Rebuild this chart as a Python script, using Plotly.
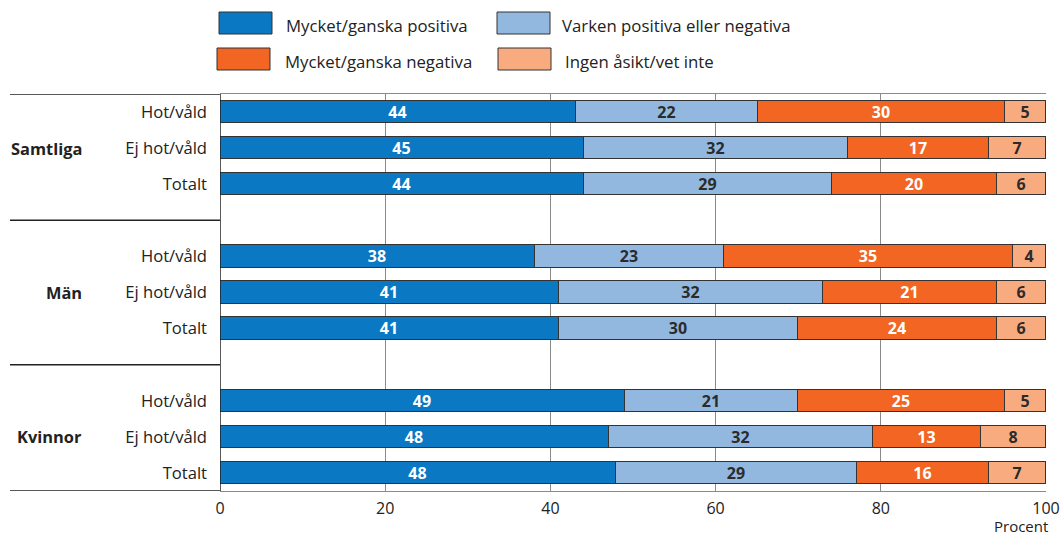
import plotly.graph_objects as go

# Data: segment lengths, labels as printed in the bars
groups = ["Samtliga", "Män", "Kvinnor"]
rows = ["Hot/våld", "Ej hot/våld", "Totalt"]
series = ["Mycket/ganska positiva", "Varken positiva eller negativa",
          "Mycket/ganska negativa", "Ingen åsikt/vet inte"]
colors = ["#0a78c2", "#93b8e0", "#f26522", "#f9ab80"]
text_colors = ["white", "#2b2b2b", "white", "#2b2b2b"]

positiva = [43.1, 44.1, 44.1, 38.1, 41.0, 41.0, 49.0, 47.1, 48.0]
varken = [22.0, 31.9, 30.0, 22.9, 32.0, 29.0, 21.0, 32.0, 29.1]
negativa = [29.9, 17.1, 20.0, 35.0, 21.1, 24.1, 25.0, 13.0, 16.0]
ingen = [5.0, 6.9, 5.9, 4.0, 5.9, 5.9, 5.0, 7.9, 6.9]

lab_positiva = [44, 45, 44, 38, 41, 41, 49, 48, 48]
lab_varken = [22, 32, 29, 23, 32, 30, 21, 32, 29]
lab_negativa = [30, 17, 20, 35, 21, 24, 25, 13, 16]
lab_ingen = [5, 7, 6, 4, 6, 6, 5, 8, 7]

values = [positiva, varken, negativa, ingen]
labels = [lab_positiva, lab_varken, lab_negativa, lab_ingen]

x_ticks = [0, 20, 40, 60, 80, 100]

FONT = "Open Sans"
INK = "#222222"

# y positions: three bars per group, one empty slot between groups
ypos = []
for g in range(len(groups)):
    for r in range(len(rows)):
        ypos.append(g * 4 + r)

fig = go.Figure()

for i, name in enumerate(series):
    fig.add_trace(go.Bar(
        x=values[i], y=ypos, orientation="h", name=name,
        marker=dict(color=colors[i], line=dict(color="#333333", width=1)),
        width=0.62,
        text=[str(v) for v in labels[i]],
        textposition="inside", insidetextanchor="middle",
        textangle=0, constraintext="none",
        textfont=dict(family=FONT, size=16, color=text_colors[i], weight="bold"),
        showlegend=False,
    ))

W, H = 1061, 536
L, R, T, B = 220, 15, 94, 45
pw = W - L - R
ph = H - T - B


def px(xp):
    return (xp - L) / pw


def py(yp):
    return 1 - (yp - T) / ph


fig.update_layout(
    width=W, height=H,
    barmode="stack", bargap=0,
    plot_bgcolor="white", paper_bgcolor="white",
    margin=dict(l=L, r=R, t=T, b=B, autoexpand=False),
    font=dict(family=FONT, size=16, color=INK),
    showlegend=False,
)

fig.update_xaxes(
    range=[0, 100], tickvals=x_ticks, automargin=False,
    showgrid=True, gridcolor="#8a8a8a", gridwidth=1,
    zeroline=False, showline=True, linecolor="#8a8a8a", mirror=True,
    tickfont=dict(size=16, color=INK),
    ticks="", ticklabelstandoff=3,
)
fig.update_yaxes(
    range=[10.5, -0.5], tickvals=ypos, ticktext=rows * len(groups),
    automargin=False,
    showgrid=False, zeroline=False, showline=False,
    tickfont=dict(size=16.6, color=INK),
    ticks="", ticklabelstandoff=12,
)

shapes = []
# left axis line
shapes.append(dict(type="line", xref="x", yref="y", x0=0, x1=0, y0=-0.5, y1=10.5,
                   line=dict(color=INK, width=1.5)))
# horizontal rules in the label area
for yv in [-0.5, 3, 7, 10.5]:
    shapes.append(dict(type="line", xref="paper", yref="y", x0=px(10), x1=0,
                       y0=yv, y1=yv, line=dict(color=INK, width=1.5)))

annotations = []
for g, name in enumerate(groups):
    annotations.append(dict(
        text="<b>" + name + "</b>", xref="paper", yref="y",
        x=px(84), y=g * 4 + 1, xanchor="right", yanchor="middle",
        showarrow=False, font=dict(size=16.4, color=INK),
    ))

annotations.append(dict(
    text="Procent", xref="paper", yref="paper", x=px(1050), y=py(526),
    xanchor="right", yanchor="middle", showarrow=False,
    font=dict(size=15, color=INK),
))

# legend drawn as boxes and text in two columns
leg_pos = [(219, 12, 284), (497, 12, 560), (217, 48, 283), (498, 48, 563)]
for i, name in enumerate(series):
    bx, by, tx = leg_pos[i]
    shapes.append(dict(type="rect", xref="paper", yref="paper",
                       x0=px(bx), x1=px(bx + 53), y0=py(by), y1=py(by + 22),
                       fillcolor=colors[i], line=dict(color="#333333", width=1)))
    annotations.append(dict(
        text=name, xref="paper", yref="paper", x=px(tx), y=py(by + 13),
        xanchor="left", yanchor="middle", showarrow=False,
        font=dict(size=16.8, color=INK),
    ))

fig.update_layout(shapes=shapes, annotations=annotations)

fig.write_html("out.html", config={"displayModeBar": False},
               post_script="document.body.style.margin='0px';"
                           "document.body.style.overflow='hidden';")
